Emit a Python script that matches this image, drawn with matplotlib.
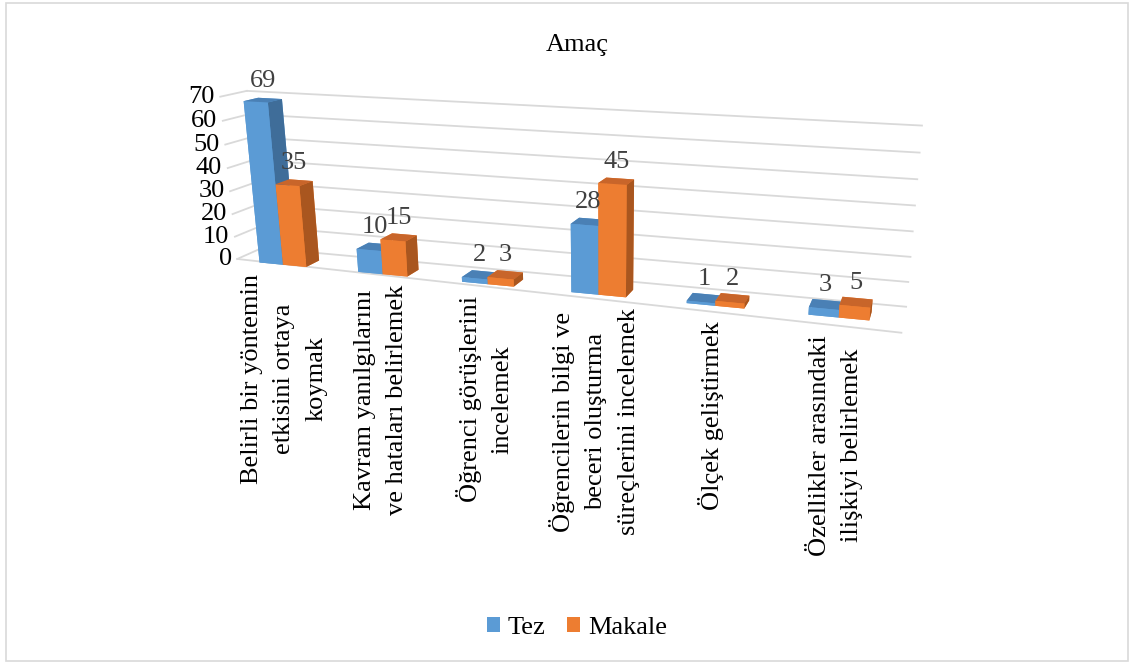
import matplotlib
matplotlib.use("Agg")
import matplotlib.pyplot as plt
from matplotlib.patches import Patch, Rectangle
from matplotlib.transforms import offset_copy
from mpl_toolkits.mplot3d import proj3d

plt.rcParams["font.family"] = ["Liberation Serif", "DejaVu Serif"]

categories = [
    "Belirli bir yöntemin\netkisini ortaya\nkoymak",
    "Kavram yanılgılarını\nve hataları belirlemek",
    "Öğrenci görüşlerini\nincelemek",
    "Öğrencilerin bilgi ve\nbeceri oluşturma\nsüreçlerini incelemek",
    "Ölçek geliştirmek",
    "Özellikler arasındaki\nilişkiyi belirlemek",
]
tez = [69, 10, 2, 28, 1, 3]
makale = [35, 15, 3, 45, 2, 5]
series_names = ["Tez", "Makale"]
z_ticks = [0, 10, 20, 30, 40, 50, 60, 70]

# face colours: bottom, top, front(-y), back(+y), left(-x), right(+x)
blue_faces = ["#5B9BD5", "#4A80B5", "#5B9BD5", "#5B9BD5", "#5B9BD5", "#3F6D99"]
orange_faces = ["#ED7D31", "#C8652A", "#ED7D31", "#ED7D31", "#ED7D31", "#A9561F"]
grid_color = "#D9D9D9"

# scene geometry (x: category steps, y: depth, z: values)
W = 0.24       # bar width
DEPTH = 0.22   # bar depth
X_LEFT, X_RIGHT = -0.5, 5.5
Y_BACK = 1.0
Y_FRONT_L, Y_FRONT_R = 0.6, 0.339   # front edge of the floor, left / right end
Y_BAR = (Y_BACK + Y_FRONT_R - DEPTH) / 2
CAT, VAL = 91.93, 1.95  # world length of one category step / one value unit

# camera: the view looks at the box centre
center = (2.951, 1.843, -23.6)
box = (1000.0, 600.0, 500.0)
S = 1400.0  # axes size in pixels

fig = plt.figure(figsize=(11.36, 6.64), dpi=100)
ax = fig.add_axes([(634 - 0.5135 * S) / 1136, (359 - 0.5135 * S) / 664,
                   S / 1136, S / 664], projection="3d", computed_zorder=False)
ax.set_box_aspect(box)
ax.set_xlim(center[0] - box[0] / CAT / 2, center[0] + box[0] / CAT / 2, view_margin=0)
ax.set_ylim(center[1] - box[1] / CAT / 2, center[1] + box[1] / CAT / 2, view_margin=0)
ax.set_zlim(center[2] - box[2] / VAL / 2, center[2] + box[2] / VAL / 2, view_margin=0)
ax.set_proj_type("persp", focal_length=0.15078)
ax.view_init(elev=18.28, azim=-74.35, roll=-0.5)
ax.set_axis_off()


def front_y(x):
    t = (x - X_LEFT) / (X_RIGHT - X_LEFT)
    return Y_FRONT_L + t * (Y_FRONT_R - Y_FRONT_L)


# walls
for z in z_ticks:
    ax.plot([X_LEFT, X_RIGHT], [Y_BACK, Y_BACK], [z, z], color=grid_color, lw=1.3, zorder=1)
    ax.plot([X_LEFT, X_LEFT], [Y_FRONT_L, Y_BACK], [z, z], color=grid_color, lw=1.3, zorder=1)
ax.plot([X_LEFT, X_RIGHT], [Y_FRONT_L, Y_FRONT_R], [0, 0], color=grid_color, lw=1.3, zorder=1)

# bars
xs, dz, cols = [], [], []
for i in range(len(categories)):
    for off, vals, faces in ((-W, tez, blue_faces), (0.0, makale, orange_faces)):
        xs.append(i + off)
        dz.append(vals[i])
        cols.extend(faces)
ax.bar3d(xs, [Y_BAR] * len(xs), [0] * len(xs), W, DEPTH, dz, color=cols,
         shade=False, zorder=2)

M = ax.get_proj()


def to2d(x, y, z):
    px, py, _ = proj3d.proj_transform(x, y, z, M)
    return float(px), float(py)


up = offset_copy(ax.transData, fig=fig, y=6, units="points")
left = offset_copy(ax.transData, fig=fig, x=-4, units="points")
down = offset_copy(ax.transData, fig=fig, y=-7, units="points")

for i in range(len(categories)):
    for off, vals in ((-W, tez), (0.0, makale)):
        px, py = to2d(i + off + W / 2, Y_BAR + DEPTH / 2, vals[i])
        ax.text2D(px, py, str(vals[i]), transform=up, ha="center", va="bottom",
                  fontsize=19, color="#404040")
    px, py = to2d(i, front_y(i), 0)
    ax.text2D(px, py, categories[i], transform=down, rotation=90, ha="center",
              va="top", multialignment="center", linespacing=1.6, fontsize=19)

for z in z_ticks:
    px, py = to2d(X_LEFT, Y_FRONT_L, z)
    ax.text2D(px, py, str(z), transform=left, ha="right", va="center", fontsize=19)

fig.text(577 / 1136, 1 - 45 / 664, "Amaç", ha="center", va="center", fontsize=19)
handles = [Patch(facecolor="#5B9BD5"), Patch(facecolor="#ED7D31")]
fig.legend(handles, series_names, loc="center", bbox_to_anchor=(577 / 1136, 1 - 628 / 664),
           ncol=2, frameon=False, fontsize=19, handlelength=0.5, handleheight=0.5,
           handletextpad=0.3, columnspacing=0.8)
fig.patches.append(Rectangle((6 / 1136, 3 / 664), 1122 / 1136, 658 / 664,
                             transform=fig.transFigure, fill=False,
                             edgecolor=grid_color, lw=1.2))

fig.savefig("out.png", dpi=100)
